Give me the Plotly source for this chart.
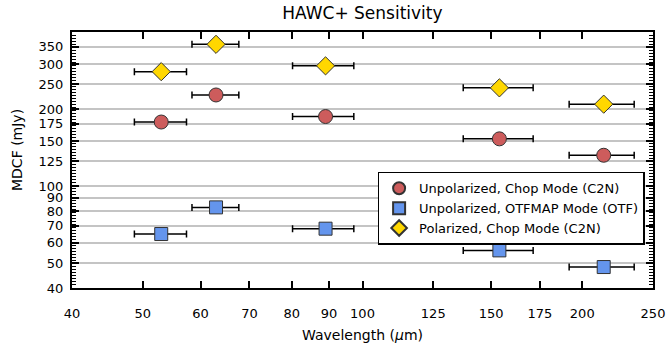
import numpy as np
import plotly.graph_objects as go

# Band centres and filter edges (micron)
wave = [53, 63, 89, 154, 214]
wave_lo = [48.7, 58.4, 80.2, 137.4, 191.9]
wave_hi = [57.4, 67.7, 97.3, 171.3, 235.6]

# MDCF (mJy)
c2n_unpol = [178, 227, 187, 153, 132]
otf_unpol = [65, 82.6, 68.2, 56.1, 48.3]
c2n_pol = [280, 358, 295, 242, 209]

xticks = [40, 50, 60, 70, 80, 90, 100, 125, 150, 175, 200, 250]
yticks = [40, 50, 60, 70, 80, 90, 100, 125, 150, 175, 200, 250, 300, 350]

err_plus = [h - w for h, w in zip(wave_hi, wave)]
err_minus = [w - l for w, l in zip(wave, wave_lo)]

FONT = "DejaVu Sans, Liberation Sans, Arial, sans-serif"

def trace(y, name, symbol, color, size):
    return go.Scatter(
        x=wave, y=y, mode="markers", name=name,
        marker=dict(symbol=symbol, color=color, size=size,
                    line=dict(color="#333333", width=1)),
        error_x=dict(type="data", array=err_plus, arrayminus=err_minus,
                     color="black", thickness=1.5, width=3.5),
    )

fig = go.Figure()
# invisible helper trace so the minor-tick overlay axis is drawn
fig.add_trace(go.Scatter(x=[100], y=[100], yaxis="y2", mode="markers",
                         marker=dict(opacity=0), showlegend=False, hoverinfo="skip"))
fig.add_trace(trace(c2n_unpol, "Unpolarized, Chop Mode (C2N)", "circle", "#CD5C5C", 14))
fig.add_trace(trace(otf_unpol, "Unpolarized, OTFMAP Mode (OTF)", "square", "#6495ED", 13))
fig.add_trace(trace(c2n_pol, "Polarized, Chop Mode (C2N)", "diamond", "#FFD700", 14))

# dense minor ticks (uniform in log space, as in the reference)
minor_y = [float(v) for v in np.geomspace(40, 400, 86)]
yrange = [np.log10(40), np.log10(400)]

PW, PH, L, T = 581, 256, 72, 32

fig.update_layout(
    width=668, height=345,
    margin=dict(l=L, r=15, t=T, b=57, autoexpand=False),
    paper_bgcolor="white", plot_bgcolor="white",
    font=dict(family=FONT, size=13, color="black"),
    title=dict(text="HAWC+ Sensitivity", x=0.5425, xanchor="center",
               y=0.962, yanchor="middle", font=dict(size=17, family=FONT)),
    showlegend=True,
    legend=dict(x=0.526, y=0.454, xanchor="left", yanchor="top",
                bgcolor="white", bordercolor="black", borderwidth=1.5,
                font=dict(size=13, family=FONT), itemsizing="constant",
                tracegroupgap=0),
    yaxis2=dict(
        type="log", range=yrange, overlaying="y", anchor="x", side="left",
        tickmode="array", tickvals=minor_y,
        showticklabels=False, ticks="inside", ticklen=4, tickwidth=1,
        tickcolor="black", showgrid=False, zeroline=False,
        showline=True, linecolor="black", linewidth=2,
        mirror="ticks", automargin=False,
    ),
    annotations=[
        dict(text="MDCF (mJy)", xref="paper", yref="paper",
             x=(17 - L) / PW, y=(T + PH - 150) / PH,
             xanchor="center", yanchor="middle", textangle=-90, showarrow=False,
             font=dict(size=14, family=FONT)),
        dict(text="Wavelength (<i>μ</i>m)", xref="paper", yref="paper",
             x=(362 - L) / PW, y=(T + PH - 335) / PH,
             xanchor="center", yanchor="middle", showarrow=False,
             font=dict(size=14, family=FONT)),
    ],
)

fig.update_layout(xaxis=dict(
    type="log", range=[np.log10(40), np.log10(250)],
    tickmode="array", tickvals=xticks, ticktext=[str(t) for t in xticks],
    ticks="inside", ticklen=7, tickwidth=1.5, tickcolor="black",
    showgrid=False, zeroline=False,
    showline=True, linecolor="black", linewidth=2, mirror="ticks",
    ticklabelstandoff=12, automargin=False,
    tickfont=dict(size=13, family=FONT),
))

fig.update_layout(yaxis=dict(
    type="log", range=yrange,
    tickmode="array", tickvals=yticks, ticktext=[str(t) for t in yticks],
    ticks="inside", ticklen=7, tickwidth=1.5, tickcolor="black",
    showgrid=True, gridcolor="#C4C4C4", gridwidth=1.5,
    zeroline=False,
    showline=True, linecolor="black", linewidth=2, mirror="ticks",
    ticklabelstandoff=4, automargin=False,
    tickfont=dict(size=13, family=FONT),
))

fig.write_html("out.html")
